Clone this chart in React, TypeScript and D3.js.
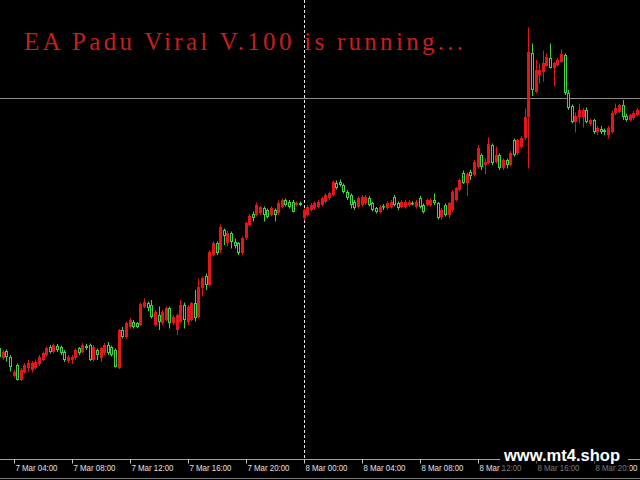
import React from "react";
import * as d3 from "d3";

// XAUUSD-like M15 candles, 7 Mar 03:00 -> 8 Mar 23:15 : [open, high, low, close]
const startTime = new Date(2024, 2, 7, 3, 0);
const barMinutes = 15;
const candles: [number, number, number, number][] = [
  [2130.3, 2130.6, 2128.3, 2128.7], [2128.3, 2130.0, 2128.0, 2129.7], [2129.8, 2130.1, 2127.7, 2128.7],
  [2128.7, 2129.0, 2125.7, 2126.7], [2124.8, 2126.0, 2124.5, 2125.7], [2127.0, 2127.3, 2123.9, 2124.0],
  [2124.0, 2126.4, 2123.8, 2126.1], [2125.7, 2127.4, 2125.3, 2127.0], [2126.3, 2128.0, 2125.7, 2127.3],
  [2126.0, 2127.8, 2125.5, 2127.3], [2126.5, 2128.1, 2126.1, 2127.7], [2127.2, 2129.0, 2126.8, 2128.7],
  [2128.1, 2129.7, 2127.8, 2129.3], [2129.0, 2130.7, 2128.7, 2130.3], [2130.7, 2131.0, 2129.3, 2129.7],
  [2129.7, 2131.3, 2129.3, 2131.0], [2130.8, 2131.2, 2129.6, 2130.0], [2130.5, 2130.9, 2129.0, 2129.3],
  [2129.7, 2130.0, 2127.6, 2128.0], [2127.8, 2129.0, 2127.4, 2128.7], [2127.9, 2129.0, 2127.2, 2128.7],
  [2128.3, 2130.3, 2128.0, 2130.0], [2130.3, 2130.6, 2129.0, 2129.3], [2129.7, 2131.4, 2129.4, 2131.0],
  [2130.8, 2131.2, 2130.0, 2130.4], [2131.0, 2131.3, 2127.8, 2128.0], [2128.0, 2131.0, 2127.7, 2130.7],
  [2130.0, 2130.3, 2128.0, 2129.0], [2128.3, 2130.6, 2127.7, 2130.3], [2129.3, 2131.4, 2129.0, 2131.0],
  [2131.0, 2131.6, 2129.0, 2129.3], [2130.5, 2130.9, 2128.7, 2129.0], [2130.0, 2130.3, 2126.5, 2126.7],
  [2126.5, 2134.2, 2126.2, 2133.9], [2134.0, 2134.6, 2132.3, 2132.7], [2132.7, 2135.7, 2132.2, 2135.3],
  [2134.7, 2136.4, 2134.3, 2136.0], [2135.7, 2136.0, 2134.3, 2134.7], [2135.3, 2135.6, 2134.4, 2134.7],
  [2135.0, 2139.5, 2134.8, 2139.2], [2138.7, 2140.3, 2138.4, 2139.7], [2139.3, 2139.7, 2137.7, 2138.3],
  [2139.0, 2140.0, 2136.3, 2136.7], [2135.0, 2138.0, 2134.7, 2137.7], [2137.0, 2138.7, 2134.0, 2135.7],
  [2135.3, 2138.0, 2135.0, 2137.7], [2136.0, 2138.7, 2135.7, 2138.3], [2138.3, 2138.7, 2134.3, 2135.3],
  [2135.3, 2137.0, 2135.0, 2136.7], [2134.0, 2137.3, 2133.0, 2137.0], [2135.7, 2140.0, 2135.3, 2139.0],
  [2139.0, 2139.5, 2134.3, 2136.0], [2135.7, 2139.0, 2135.0, 2138.7], [2136.0, 2139.6, 2135.7, 2139.3],
  [2139.3, 2142.0, 2135.7, 2136.3], [2136.7, 2144.3, 2136.3, 2142.7], [2142.3, 2144.7, 2140.7, 2144.3],
  [2144.8, 2145.3, 2142.0, 2143.0], [2143.0, 2150.0, 2142.7, 2149.7], [2149.0, 2151.7, 2148.7, 2151.3],
  [2151.3, 2151.7, 2149.0, 2149.3], [2150.0, 2155.1, 2149.3, 2154.7], [2153.9, 2154.3, 2151.0, 2152.8],
  [2151.3, 2153.8, 2150.7, 2153.5], [2153.3, 2153.7, 2150.3, 2151.7], [2151.7, 2152.3, 2150.3, 2150.8],
  [2151.3, 2151.6, 2149.0, 2149.3], [2149.3, 2152.7, 2149.0, 2152.3], [2152.3, 2155.7, 2152.0, 2155.3],
  [2155.0, 2157.2, 2154.7, 2156.8], [2157.2, 2157.7, 2155.7, 2156.5], [2157.0, 2159.5, 2156.7, 2159.0],
  [2157.5, 2158.8, 2157.0, 2158.5], [2158.3, 2158.7, 2155.7, 2157.0], [2158.0, 2158.3, 2156.3, 2156.7],
  [2157.0, 2158.7, 2156.7, 2158.3], [2158.0, 2158.3, 2155.7, 2157.0], [2157.3, 2159.9, 2157.0, 2159.3],
  [2158.7, 2160.3, 2158.3, 2160.0], [2160.0, 2160.3, 2158.7, 2159.0], [2159.7, 2160.0, 2158.3, 2158.7],
  [2159.7, 2160.0, 2157.5, 2157.7], [2159.0, 2159.7, 2158.7, 2159.3], [2159.5, 2159.7, 2158.8, 2159.1],
  [2156.3, 2158.3, 2155.9, 2158.0], [2157.0, 2159.0, 2156.7, 2158.7], [2158.0, 2159.4, 2157.7, 2159.0],
  [2158.3, 2159.7, 2158.0, 2159.3], [2158.7, 2160.0, 2158.3, 2159.7], [2159.0, 2160.7, 2158.7, 2160.3],
  [2159.7, 2161.3, 2159.3, 2161.0], [2160.3, 2161.7, 2160.0, 2161.3], [2161.0, 2163.9, 2160.7, 2163.7],
  [2163.3, 2163.9, 2162.1, 2162.5], [2163.7, 2164.1, 2162.7, 2163.0], [2163.0, 2163.3, 2161.3, 2161.7],
  [2161.7, 2162.0, 2160.0, 2160.3], [2161.0, 2161.3, 2158.3, 2159.0], [2159.7, 2160.0, 2158.0, 2158.3],
  [2158.7, 2160.7, 2158.3, 2160.3], [2159.0, 2161.0, 2158.7, 2160.7], [2159.3, 2161.0, 2159.0, 2160.7],
  [2160.5, 2160.8, 2158.7, 2159.0], [2159.3, 2159.6, 2157.7, 2158.0], [2158.3, 2158.6, 2157.3, 2157.7],
  [2157.7, 2159.0, 2157.3, 2158.7], [2158.8, 2159.2, 2158.0, 2158.5], [2158.3, 2159.7, 2158.0, 2159.3],
  [2158.7, 2160.0, 2158.3, 2159.7], [2160.7, 2161.0, 2158.7, 2159.0], [2159.3, 2159.7, 2158.0, 2158.3],
  [2158.7, 2160.0, 2158.3, 2159.7], [2158.7, 2160.0, 2158.3, 2159.7], [2159.0, 2160.0, 2158.7, 2159.7],
  [2159.5, 2159.8, 2158.9, 2159.2], [2158.7, 2160.0, 2158.3, 2159.7], [2160.3, 2160.8, 2158.3, 2158.7],
  [2159.0, 2159.3, 2157.3, 2157.7], [2159.0, 2160.3, 2158.7, 2160.0], [2159.0, 2160.3, 2158.7, 2160.0],
  [2160.0, 2161.3, 2159.0, 2159.3], [2159.3, 2159.6, 2156.1, 2156.5], [2156.7, 2158.4, 2156.0, 2158.1],
  [2159.0, 2159.3, 2156.7, 2157.0], [2157.0, 2159.6, 2156.3, 2159.3], [2158.0, 2162.0, 2157.7, 2161.7],
  [2160.0, 2162.6, 2159.7, 2162.3], [2162.0, 2164.3, 2161.7, 2164.0], [2165.5, 2165.9, 2163.2, 2163.5],
  [2163.5, 2165.5, 2160.8, 2165.2], [2165.7, 2166.0, 2164.0, 2164.8], [2165.0, 2168.0, 2164.7, 2167.7],
  [2166.7, 2171.0, 2166.3, 2170.3], [2169.0, 2169.3, 2166.0, 2166.7], [2167.0, 2168.3, 2165.2, 2167.7],
  [2167.3, 2172.5, 2167.2, 2171.2], [2171.0, 2171.3, 2167.0, 2167.3], [2167.7, 2170.7, 2167.3, 2169.0],
  [2169.0, 2169.3, 2166.0, 2166.3], [2166.3, 2168.3, 2166.0, 2168.0], [2168.0, 2168.3, 2166.3, 2167.0],
  [2167.0, 2169.8, 2166.7, 2169.5], [2172.0, 2172.3, 2168.7, 2169.0], [2169.3, 2172.2, 2169.0, 2171.9],
  [2170.7, 2172.8, 2170.3, 2172.5], [2172.3, 2178.3, 2172.0, 2176.5], [2176.7, 2194.5, 2166.3, 2189.7],
  [2189.5, 2191.3, 2180.8, 2182.0], [2181.7, 2188.0, 2181.3, 2186.0], [2185.0, 2187.3, 2183.3, 2185.9],
  [2185.7, 2189.9, 2183.7, 2187.5], [2186.8, 2189.3, 2186.7, 2188.5], [2188.3, 2191.3, 2186.3, 2186.5],
  [2186.3, 2187.6, 2182.7, 2187.3], [2187.0, 2188.4, 2186.7, 2188.1], [2187.7, 2190.1, 2187.4, 2189.2],
  [2189.0, 2189.3, 2181.0, 2181.3], [2181.3, 2182.0, 2178.0, 2178.3], [2178.8, 2179.1, 2175.3, 2175.7],
  [2175.7, 2177.5, 2173.5, 2176.8], [2176.7, 2179.3, 2175.3, 2177.9], [2176.7, 2178.4, 2174.5, 2178.1],
  [2178.1, 2178.5, 2175.3, 2175.7], [2175.2, 2176.3, 2174.8, 2176.0], [2175.9, 2176.2, 2173.2, 2173.7],
  [2173.5, 2174.8, 2173.0, 2174.3], [2174.2, 2174.8, 2173.2, 2173.7], [2174.0, 2174.3, 2173.0, 2173.5],
  [2173.0, 2174.8, 2172.3, 2174.5], [2173.7, 2177.8, 2173.3, 2177.5], [2177.3, 2179.3, 2177.0, 2178.5],
  [2177.7, 2179.2, 2177.4, 2178.9], [2179.0, 2180.0, 2176.0, 2176.7], [2176.8, 2177.2, 2175.7, 2176.0],
  [2176.0, 2177.2, 2175.7, 2176.9], [2176.3, 2177.8, 2176.0, 2177.5], [2177.0, 2178.4, 2176.7, 2178.1],
  [2177.7, 2179.0, 2177.4, 2178.7],
];
const priceLine = 2180.3;
const separatorTime = new Date(2024, 2, 8, 0, 0);
const tickStart = new Date(2024, 2, 7, 4, 0);
const tickEnd = new Date(2024, 2, 8, 21, 0);
const titleText = "EA Padu Viral V.100 is running...";
const watermark = "www.mt4.shop";

const W = 640;
const H = 480;
const UP = "#e3161b";
const DOWN = "#3fd33f";

export default function App() {
  const n = candles.length;
  const endTime = new Date(startTime.getTime() + (n - 1) * barMinutes * 60000);
  const x = d3.scaleTime().domain([startTime, endTime]).range([-0.95, -0.95 + 3.625 * (n - 1)]);
  const y = d3.scaleLinear().domain([2104, 2200]).range([480, 0]);
  const timeOf = (i: number) => new Date(startTime.getTime() + i * barMinutes * 60000);
  const ticks = d3.timeHour.every(4)!.range(tickStart, tickEnd);
  const fmt = d3.timeFormat("%-d %b %H:%M");
  const axisY = 459.5;

  return (
    <svg width={W} height={H} style={{ position: "absolute", left: 0, top: 0, display: "block" }}>
      <rect x={0} y={0} width={W} height={H} fill="#000" />
      <text x={24} y={50} fill="#c81e1e" fontFamily="'Liberation Serif', 'DejaVu Serif', serif" fontSize={25}
        textLength={439} lengthAdjust="spacing">{titleText}</text>
      <line x1={0} x2={W} y1={Math.round(y(priceLine)) + 0.5} y2={Math.round(y(priceLine)) + 0.5} stroke="#8c8c8c" strokeWidth={1} />
      <line x1={Math.round(x(separatorTime)) + 0.5} x2={Math.round(x(separatorTime)) + 0.5} y1={0} y2={axisY}
        stroke="#e8e8e8" strokeWidth={1} strokeDasharray="3 2" />
      <g>
        {candles.map((c, i) => {
          const [o, h, l, cl] = c;
          const cx = Math.round(x(timeOf(i)));
          const up = cl >= o;
          const col = up ? UP : DOWN;
          const top = Math.round(y(Math.max(o, cl)));
          const bot = Math.round(y(Math.min(o, cl)));
          const bh = Math.max(1, bot - top);
          return (
            <g key={i}>
              <line x1={cx + 0.5} x2={cx + 0.5} y1={y(h)} y2={y(l)} stroke={col} strokeWidth={1} />
              {up ? (
                <rect x={cx - 1} y={top} width={3} height={bh} fill={col} />
              ) : (
                <rect x={cx - 0.5} y={top + 0.5} width={2} height={Math.max(0.5, bh - 1)} fill="#000" stroke={col} strokeWidth={1} />
              )}
            </g>
          );
        })}
      </g>
      <line x1={0} x2={W} y1={axisY} y2={axisY} stroke="#a0a0a0" strokeWidth={1} />
      {ticks.map((t, i) => {
        const tx = Math.round(x(t)) + 0.5;
        return (
          <g key={i}>
            <line x1={tx} x2={tx} y1={axisY} y2={axisY + 4} stroke="#c8c8c8" strokeWidth={1} />
            <text x={tx + 1} y={471} fill="#e0e0e0" fontFamily="'Liberation Sans', Arial, sans-serif" fontSize={9}
              textLength={42} lengthAdjust="spacingAndGlyphs">
              {fmt(t)}
            </text>
          </g>
        );
      })}
      <line x1={0} x2={W} y1={478.5} y2={478.5} stroke="#7a7a7a" strokeWidth={1} />
      <rect x={500} y={446} width={128} height={15} fill="#000" />
      <rect x={503} y={461} width={127} height={15} fill="#000" opacity={0.5} />
      <text x={504} y={461} fill="#ffffff" fontFamily="'Liberation Sans', Arial, sans-serif" fontWeight="bold" fontSize={16}
        textLength={116} lengthAdjust="spacingAndGlyphs">{watermark}</text>
    </svg>
  );
}
